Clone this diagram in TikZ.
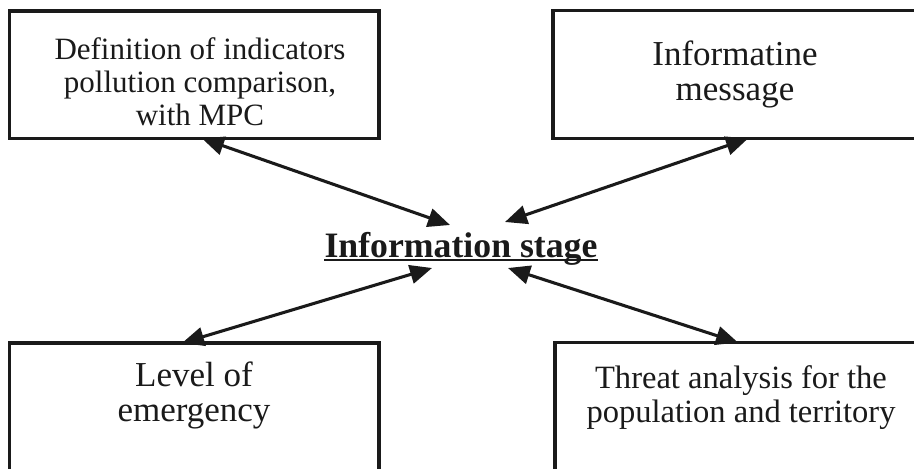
\documentclass[tikz,border=0pt]{standalone}
\usepackage{fontspec}
\setmainfont{Liberation Serif}
\usetikzlibrary{arrows.meta}
\definecolor{ink}{HTML}{1A1A1A}
\begin{document}
\begin{tikzpicture}[x=0.75pt,y=-0.75pt,
  box/.style={draw=ink, line width=2.3pt, inner sep=0pt, outer sep=0pt, anchor=north west},
  link/.style={draw=ink, line width=2.3pt, {Triangle[length=16.5pt,width=14pt]}-{Triangle[length=16.5pt,width=14pt]}},
  txt/.style={text=ink, align=center, inner sep=0pt}
]
\useasboundingbox (0,0) rectangle (914,468);
\clip (0,0) rectangle (914,468);
\fill[white] (0,0) rectangle (914,468);

% boxes
\node[box, minimum width=277.1pt, minimum height=95.6pt] (tl) at (9.5,11) {};
\node[box, minimum width=277.5pt, minimum height=96pt] (tr) at (553,10.5) {};
\node[box, minimum width=277.1pt, minimum height=100pt] (bl) at (9.5,343) {};
\node[box, minimum width=277.5pt, minimum height=100pt] (br) at (555,342.5) {};

% texts
\node[txt, font=\fontsize{23.25pt}{24.75pt}\selectfont] (tltext) at (200,82)
  {Definition of indicators\\pollution comparison,\\with MPC};
\node[txt, font=\fontsize{26.25pt}{26.25pt}\selectfont] (trtext) at (735,74)
  {Informatine\\message};
\node[txt, font=\fontsize{26.25pt}{26.25pt}\selectfont] (bltext) at (194,395)
  {Level of\\emergency};
\node[txt, font=\fontsize{24.4pt}{25.5pt}\selectfont] (brtext) at (741,397.5)
  {Threat analysis for the\\population and territory};

% title
\node[text=ink, inner sep=0pt, anchor=base, font=\fontsize{26.8pt}{30pt}\selectfont\bfseries] (title) at (461,257) {Information stage};
\draw[ink, line width=1.5pt] ([yshift=-2.2pt]title.base west) -- ([yshift=-2.2pt]title.base east);

% connector ends near the title
\coordinate (e1) at (450,225);
\coordinate (e2) at (505,222);
\coordinate (e3) at (432,268);
\coordinate (e4) at (508,268);

% connectors
\draw[link] ([xshift=144.4pt]tl.south west) -- (e1);
\draw[link] ([xshift=146.25pt]tr.south west) -- (e2);
\draw[link] ([xshift=129.4pt]bl.north west) -- (e3);
\draw[link] ([xshift=137.25pt]br.north west) -- (e4);
\end{tikzpicture}
\end{document}
